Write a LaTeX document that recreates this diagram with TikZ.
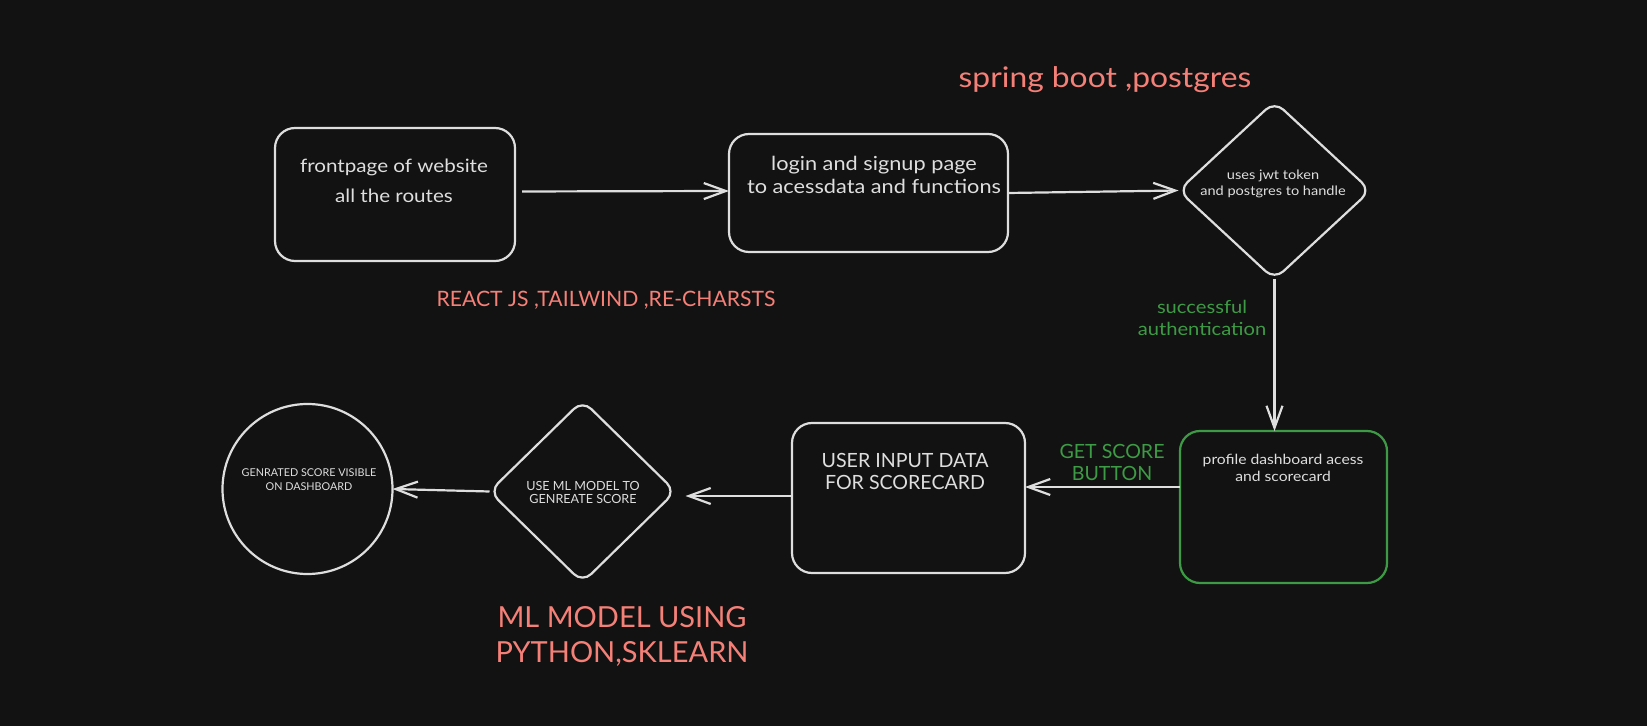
\documentclass[tikz,border=0pt]{standalone}
\usepackage{fontspec}
\setmainfont{Lato}
\newfontfamily\widefont[FakeStretch=1.12]{Lato}
\usetikzlibrary{arrows.meta,shapes.geometric,calc}
\definecolor{bg}{HTML}{121212}
\definecolor{fg}{HTML}{DEDEDE}
\definecolor{grn}{HTML}{3E9B45}
\definecolor{redt}{HTML}{F58078}
\tikzset{
  box/.style={draw=fg, line width=1.1pt, rounded corners=10pt, inner sep=0pt, outer sep=0pt},
  dia/.style={diamond, draw=fg, line width=1.1pt, rounded corners=6pt, inner sep=0pt, outer sep=0pt},
  circ/.style={circle, draw=fg, line width=1.1pt, inner sep=0pt, outer sep=0pt},
  wtxt/.style={text=fg, align=center, inner sep=0pt},
  gtxt/.style={text=grn, align=center, inner sep=0pt},
  rtxt/.style={text=redt, align=center, inner sep=0pt},
  arr/.style={draw=fg, line width=1.1pt, -{Straight Barb[length=11pt,width=8pt,line width=1.1pt]}},
}
\newcommand{\fs}[2]{\fontsize{#1}{#2}\selectfont}
\begin{document}
\begin{tikzpicture}[x=0.5pt,y=-0.5pt]
\fill[bg] (0,0) rectangle (1647,726);
\useasboundingbox (0,0) rectangle (1647,726);

% boxes
\node[box, minimum width=120pt, minimum height=66.5pt] (b1) at (395,194.5) {};
\node[box, minimum width=139.5pt, minimum height=59pt] (b2) at (868.5,193) {};
\node[dia, minimum width=96pt, minimum height=89pt] (d1) at (1274.5,190.5) {};
\node[box, draw=grn, minimum width=103.5pt, minimum height=76pt] (g) at (1283.5,507) {};
\node[box, minimum width=116.5pt, minimum height=75pt] (b3) at (908.5,498) {};
\node[dia, minimum width=93pt, minimum height=91pt] (d2) at (582.5,491.5) {};
\node[circ, minimum size=85pt] (c) at (307.5,489) {};

% texts inside shapes
\node[wtxt, font=\widefont\fs{9.2}{15}] (t1) at (394,181) {frontpage of website\\all the routes};
\node[wtxt, font=\widefont\fs{9.7}{11.5}] (t2) at (874,174.5) {login and signup page\\to acessdata and functions};
\node[wtxt, font=\widefont\fs{6.5}{8}] (t3) at (1273,184) {uses jwt token\\and postgres to handle};
\node[wtxt, font=\widefont\fs{7}{8.5}] (t4) at (1283,468) {profile dashboard acess\\and scorecard};
\node[wtxt, font=\fs{9.8}{11}] (t5) at (905,471) {USER INPUT DATA\\FOR SCORECARD};
\node[wtxt, font=\fs{6.3}{6.8}] (t6) at (583,492.5) {USE ML MODEL TO\\GENREATE SCORE};
\node[wtxt, font=\fs{5.4}{7}] (t7) at (309,480) {GENRATED SCORE VISIBLE\\ON DASHBOARD};

% annotations
\node[rtxt, font=\widefont\fs{14.2}{16}] (l1) at (1105,80) {spring boot ,postgres};
\node[rtxt, font=\fs{10.6}{12}] (l2) at (606,300) {REACT JS ,TAILWIND ,RE-CHARSTS};
\node[gtxt, font=\widefont\fs{9}{11}] (l3) at (1202,318) {successful\\authentication};
\node[gtxt, font=\fs{9.8}{11}] (l4) at (1112,462) {GET SCORE\\BUTTON};
\node[rtxt, font=\fs{14.5}{17.5}] (l5) at (622,636) {ML MODEL USING\\PYTHON,SKLEARN};

% connectors
\draw[arr, shorten <=3.5pt] ([yshift=1.5pt]b1.east) -- ([yshift=1pt]b2.west);
\draw[arr] (b2.east) -- (d1.west);
\draw[arr] (d1.south) -- (d1.south |- g.north);
\draw[arr] ([yshift=10pt]g.west) -- ([yshift=5.5pt]b3.east);
\draw[arr, shorten >=5pt] ([yshift=1pt]b3.west) -- ([yshift=1pt]b3.west -| d2.east);
\draw[arr] (d2.west) -- (c.east);
\end{tikzpicture}
\end{document}
